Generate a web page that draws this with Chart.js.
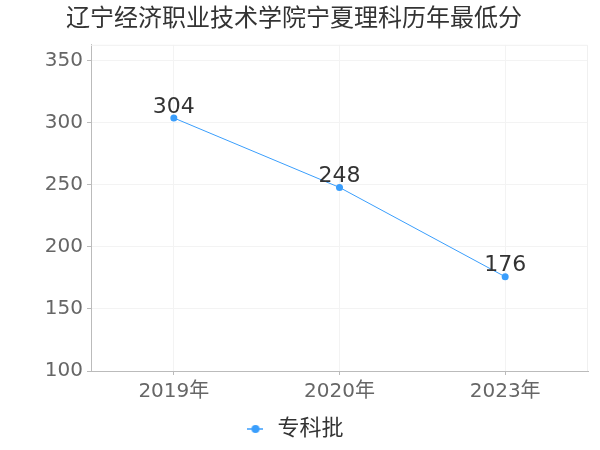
<!DOCTYPE html>
<html>
<head>
<meta charset="utf-8">
<script src="https://cdn.jsdelivr.net/npm/chart.js@4/dist/chart.umd.min.js"></script>
<style>
  html, body { margin: 0; padding: 0; background: #fff; }
  #wrap { width: 600px; height: 450px; }
</style>
</head>
<body>
<div id="wrap"><canvas id="chart" width="600" height="450"></canvas></div>
<script>
const years = ["2019年", "2020年", "2023年"];
const scores = [304, 248, 176];
const seriesName = "专科批";
const chartTitle = "辽宁经济职业技术学院宁夏理科历年最低分";
const yTicks = [100, 150, 200, 250, 300, 350];

const FONT = "'DejaVu Sans', 'Noto Sans CJK SC', sans-serif";
const BLUE = "#3a9efc";

// small line + dot marker for the legend
function legendMarker() {
    const c = document.createElement("canvas");
    c.width = 16;
    c.height = 10;
    const ctx = c.getContext("2d");
    ctx.strokeStyle = BLUE;
    ctx.lineWidth = 1.5;
    ctx.beginPath();
    ctx.moveTo(0, 5);
    ctx.lineTo(16, 5);
    ctx.stroke();
    ctx.fillStyle = BLUE;
    ctx.beginPath();
    ctx.arc(8, 5, 4, 0, Math.PI * 2);
    ctx.fill();
    return c;
}

// value labels above each point
const valueLabels = {
    id: "valueLabels",
    afterDatasetsDraw(chart) {
        const ctx = chart.ctx;
        const meta = chart.getDatasetMeta(0);
        ctx.save();
        ctx.font = "22px " + FONT;
        ctx.fillStyle = "#333";
        ctx.textAlign = "center";
        ctx.textBaseline = "bottom";
        meta.data.forEach((pt, i) => {
            ctx.fillText(String(scores[i]), pt.x, pt.y);
        });
        ctx.restore();
    },
};

// light frame on top and right of the plot area
const frame = {
    id: "frame",
    beforeDatasetsDraw(chart) {
        const { ctx, chartArea: a } = chart;
        ctx.save();
        ctx.strokeStyle = "#f0f0f0";
        ctx.lineWidth = 1;
        ctx.beginPath();
        ctx.moveTo(a.left, a.top + 0.5);
        ctx.lineTo(a.right - 0.5, a.top + 0.5);
        ctx.lineTo(a.right - 0.5, a.bottom);
        ctx.stroke();
        ctx.restore();
    },
};

new Chart(document.getElementById("chart"), {
    type: "line",
    data: {
        labels: years,
        datasets: [{
            label: seriesName,
            data: scores,
            borderColor: BLUE,
            backgroundColor: BLUE,
            borderWidth: 1,
            pointRadius: 3.5,
            pointStyle: "circle",
            pointBackgroundColor: BLUE,
            pointBorderWidth: 0,
            tension: 0,
        }],
    },
    options: {
        responsive: false,
        animation: false,
        layout: { padding: { left: 0, right: 12, top: 0, bottom: 0 } },
        scales: {
            x: {
                offset: true,
                grid: {
                    color: "#f3f3f3",
                    tickColor: "#bbb",
                    tickLength: 4,
                    offset: false,
                },
                border: { color: "#bbb" },
                ticks: { color: "#666", font: { size: 20, family: FONT }, padding: 5 },
                afterFit(s) { s.height = 40; },
            },
            y: {
                min: 100,
                max: 363,
                grid: { color: "#f3f3f3", tickColor: "#bbb", tickLength: 4 },
                border: { color: "#bbb" },
                ticks: { color: "#666", font: { size: 20, family: FONT }, padding: 4 },
                afterBuildTicks(s) { s.ticks = yTicks.map(v => ({ value: v })); },
                afterFit(s) { s.width = 91; },
            },
        },
        plugins: {
            title: {
                display: true,
                text: chartTitle,
                color: "#333",
                font: { size: 24, weight: "normal", family: FONT },
                padding: { top: 5, bottom: 11 },
            },
            legend: {
                position: "bottom",
                labels: {
                    color: "#333",
                    font: { size: 22, family: FONT },
                    usePointStyle: true,
                    padding: 7,
                    generateLabels(chart) {
                        return [{
                            text: seriesName,
                            pointStyle: legendMarker(),
                            fillStyle: BLUE,
                            strokeStyle: BLUE,
                            lineWidth: 0,
                            datasetIndex: 0,
                            fontColor: "#333",
                        }];
                    },
                },
            },
            tooltip: { enabled: false },
        },
    },
    plugins: [frame, valueLabels],
});
</script>
</body>
</html>
